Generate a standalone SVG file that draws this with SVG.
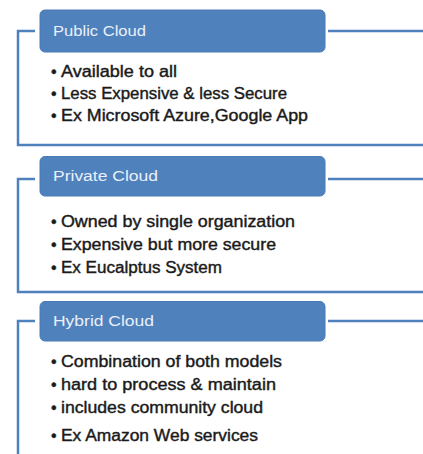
<svg xmlns="http://www.w3.org/2000/svg" width="423" height="454" viewBox="0 0 423 454">
<style>
.frame{fill:none;stroke:#4f81bd;stroke-width:2.5}
.box{fill:#4f81bd;stroke:#4a7ab5;stroke-width:1}
.title{font-family:"Liberation Sans",Arial,sans-serif;font-size:15.5px;fill:#eaf0f8}
.item{font-family:"Liberation Sans",Arial,sans-serif;font-size:16px;fill:#1a1a1a;stroke:#1a1a1a;stroke-width:0.4}
</style>
<rect width="423" height="454" fill="#ffffff"/>
<g id="connectors">
<path class="frame" d="M35,31 H18 V145 H423"/>
<path class="frame" d="M328,31 H423"/>
<path class="frame" d="M35,179 H18 V292 H423"/>
<path class="frame" d="M328,179 H423"/>
<path class="frame" d="M35,321 H18 V454"/>
<path class="frame" d="M328,321 H423"/>
</g>
<g id="public-cloud">
<rect class="box" x="40" y="10" width="285" height="42" rx="5"/>
<text class="title" x="53" y="35.5" textLength="93" lengthAdjust="spacingAndGlyphs">Public Cloud</text>
<text class="item" x="51" y="77">•<tspan x="61" textLength="116" lengthAdjust="spacingAndGlyphs">Available to all</tspan></text>
<text class="item" x="51" y="99">•<tspan x="61" textLength="226" lengthAdjust="spacingAndGlyphs">Less Expensive &amp; less Secure</tspan></text>
<text class="item" x="51" y="121">•<tspan x="61" textLength="247" lengthAdjust="spacingAndGlyphs">Ex Microsoft Azure,Google App</tspan></text>
</g>
<g id="private-cloud">
<rect class="box" x="40" y="156.5" width="285" height="39.5" rx="5"/>
<text class="title" x="53" y="181" textLength="105" lengthAdjust="spacingAndGlyphs">Private Cloud</text>
<text class="item" x="51" y="227">•<tspan x="61" textLength="234" lengthAdjust="spacingAndGlyphs">Owned by single organization</tspan></text>
<text class="item" x="51" y="250">•<tspan x="61" textLength="215" lengthAdjust="spacingAndGlyphs">Expensive but more secure</tspan></text>
<text class="item" x="51" y="272.5">•<tspan x="61" textLength="161" lengthAdjust="spacingAndGlyphs">Ex Eucalptus System</tspan></text>
</g>
<g id="hybrid-cloud">
<rect class="box" x="40" y="301.5" width="285" height="39.5" rx="5"/>
<text class="title" x="53" y="326" textLength="101" lengthAdjust="spacingAndGlyphs">Hybrid Cloud</text>
<text class="item" x="51" y="367">•<tspan x="61" textLength="221" lengthAdjust="spacingAndGlyphs">Combination of both models</tspan></text>
<text class="item" x="51" y="390">•<tspan x="61" textLength="215" lengthAdjust="spacingAndGlyphs">hard to process &amp; maintain</tspan></text>
<text class="item" x="51" y="413">•<tspan x="61" textLength="202" lengthAdjust="spacingAndGlyphs">includes community cloud</tspan></text>
<text class="item" x="51" y="441">•<tspan x="61" textLength="197" lengthAdjust="spacingAndGlyphs">Ex Amazon Web services</tspan></text>
</g>
</svg>
